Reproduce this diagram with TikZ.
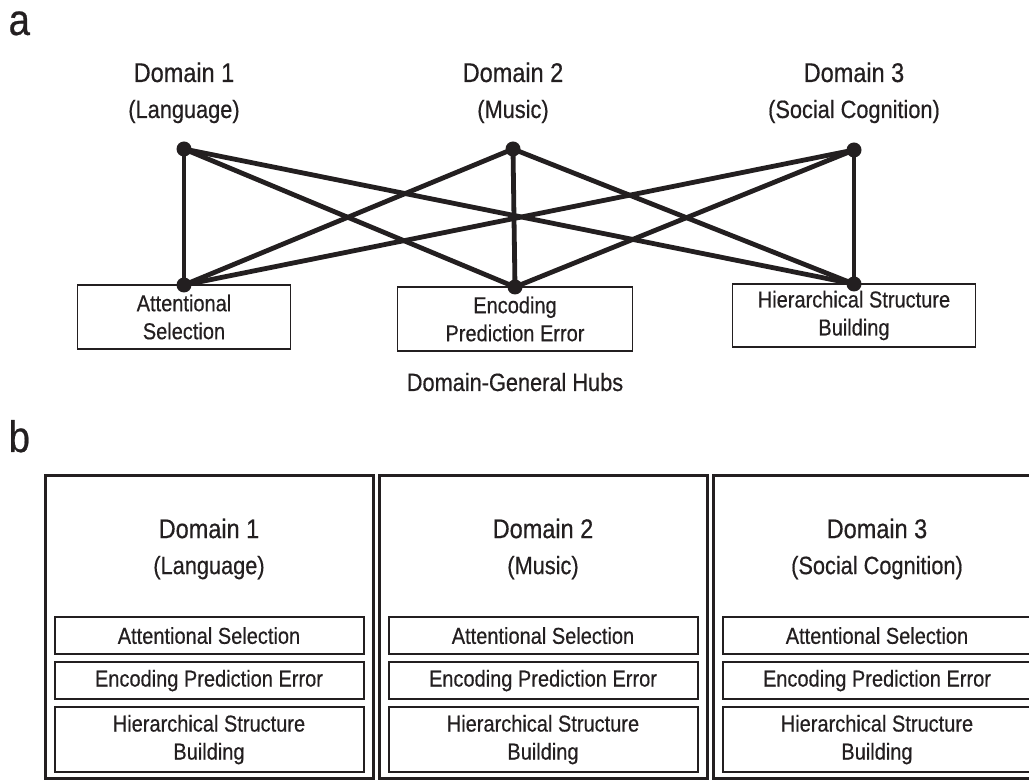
\documentclass[tikz,border=0pt]{standalone}
\usepackage{fontspec}
\setmainfont{Liberation Sans}[FakeStretch=0.87, FakeBold=0.5]
\usetikzlibrary{positioning}
\definecolor{ink}{HTML}{231F20}

\begin{document}
\begin{tikzpicture}[x=1pt, y=1pt, color=ink, outer sep=0pt,
   dot/.style={circle, fill, inner sep=0pt, minimum size=7.5pt},
   link/.style={line width=2.4pt},
   hub/.style={draw, line width=0.8pt, align=center, inner sep=0pt, font=\fontsize{11.5}{14}\selectfont},
   cell/.style={draw, line width=1pt, align=center, inner sep=0pt, minimum width=154.5pt, font=\fontsize{11.5}{14}\selectfont},
   panel/.style={draw, line width=1.5pt, minimum width=164pt, minimum height=151.3pt},
   title/.style={font=\fontsize{13.5}{16}\selectfont},
   sub/.style={font=\fontsize{12.5}{15}\selectfont},
   letter/.style={font=\fontsize{22}{26}\selectfont, anchor=base west}]
   \useasboundingbox (0,0) rectangle (514.5,-390);

   \node[letter] (la) at (1,-17.5) {a};
   \node[dot] (d1) at (92,-74.5) {};
   \node[dot] (d2) at (256.5,-74.5) {};
   \node[dot] (d3) at (427,-75) {};
   \node[dot] (h1) at (92,-142.5) {};
   \node[dot] (h2) at (257.5,-143.5) {};
   \node[dot] (h3) at (427,-142) {};

   \node[sub, above=15.5pt of d1.center, anchor=base] (s1) {(Language)};
   \node[title, above=18pt of s1.base, anchor=base] (t1) {Domain 1};
   \node[sub, above=15.5pt of d2.center, anchor=base] (s2) {(Music)};
   \node[title, above=18pt of s2.base, anchor=base] (t2) {Domain 2};
   \node[sub, above=16pt of d3.center, anchor=base] (s3) {(Social Cognition)};
   \node[title, above=18pt of s3.base, anchor=base] (t3) {Domain 3};

   \node[hub, minimum width=106.5pt, minimum height=32pt, below=0pt of h1.center] (a1) {Attentional\\Selection};
   \node[hub, minimum width=117.5pt, minimum height=32pt, below=0pt of h2.center] (a2) {Encoding\\Prediction Error};
   \node[hub, minimum width=121.5pt, minimum height=31.5pt, below=0pt of h3.center] (a3) {Hierarchical Structure\\Building};
   \node[sub, below=20pt of a2.south, anchor=base] (gen) {Domain-General Hubs};

   \path[link]
   (d1.center) edge (h1.center)
               edge (h2.center)
               edge (h3.center)
   (d2.center) edge (h1.center)
               edge (h2.center)
               edge (h3.center)
   (d3.center) edge (h1.center)
               edge (h2.center)
               edge (h3.center);

   \node[letter] (lb) at (1,-226) {b};
   \node[panel] (p1) at (104.5,-313.4) {};
   \node[panel, right=3pt of p1] (p2) {};
   \node[panel, right=3pt of p2] (p3) {};

   \node[cell, minimum height=32.5pt, above=3pt of p1.south] (c13) {Hierarchical Structure\\Building};
   \node[cell, minimum height=18.5pt, above=4pt of c13] (c12) {Encoding Prediction Error};
   \node[cell, minimum height=18.5pt, above=4pt of c12] (c11) {Attentional Selection};
   \node[sub, above=21.5pt of c11.north, anchor=base] (q1) {(Language)};
   \node[title, above=18pt of q1.base, anchor=base] (r1) {Domain 1};

   \node[cell, minimum height=32.5pt, above=3pt of p2.south] (c23) {Hierarchical Structure\\Building};
   \node[cell, minimum height=18.5pt, above=4pt of c23] (c22) {Encoding Prediction Error};
   \node[cell, minimum height=18.5pt, above=4pt of c22] (c21) {Attentional Selection};
   \node[sub, above=21.5pt of c21.north, anchor=base] (q2) {(Music)};
   \node[title, above=18pt of q2.base, anchor=base] (r2) {Domain 2};

   \node[cell, minimum height=32.5pt, above=3pt of p3.south] (c33) {Hierarchical Structure\\Building};
   \node[cell, minimum height=18.5pt, above=4pt of c33] (c32) {Encoding Prediction Error};
   \node[cell, minimum height=18.5pt, above=4pt of c32] (c31) {Attentional Selection};
   \node[sub, above=21.5pt of c31.north, anchor=base] (q3) {(Social Cognition)};
   \node[title, above=18pt of q3.base, anchor=base] (r3) {Domain 3};
\end{tikzpicture}
\end{document}
